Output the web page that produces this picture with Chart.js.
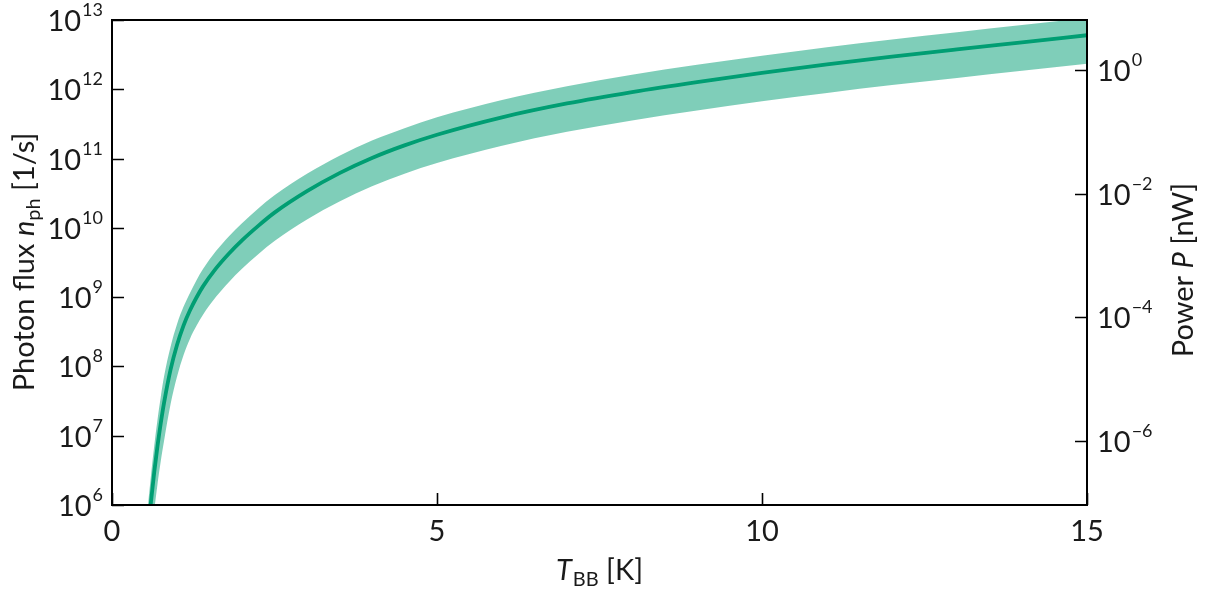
<!DOCTYPE html>
<html>
<head>
<meta charset="utf-8">
<script src="https://cdn.jsdelivr.net/npm/chart.js@4/dist/chart.umd.min.js"></script>
<style>
  html, body { margin: 0; padding: 0; background: #ffffff; }
  #wrap { width: 1205px; height: 590px; }
</style>
</head>
<body>
<div id="wrap"><canvas id="c" width="1205" height="590"></canvas></div>
<script>
// Blackbody temperature samples [K]
const temperatureK = [0.5, 0.55, 0.6, 0.65, 0.7, 0.75, 0.8, 0.9, 1.0, 1.1, 1.2, 1.3, 1.4, 1.6, 1.8, 2.0, 2.25, 2.5,
  3.0, 3.5, 4.0, 4.5, 5.0, 6.0, 7.0, 8.0, 9.0, 10, 11, 12, 13, 14, 15];

// Photon flux n_ph [1/s]: central estimate and the upper / lower bounds of the band
const fluxCentral = [1.07e5, 3.76e5, 1.12e6, 2.99e6, 7.08e6, 1.51e7, 2.95e7, 8.91e7, 2.04e8, 3.89e8, 6.46e8,
  9.89e8, 1.43e9, 2.60e9, 4.27e9, 6.61e9, 1.07e10, 1.66e10, 3.39e10, 6.17e10, 1.02e11, 1.55e11, 2.21e11,
  3.94e11, 6.24e11, 9.12e11, 1.27e12, 1.72e12, 2.28e12, 2.95e12, 3.76e12, 4.76e12, 6.03e12];
const fluxUpper = [2.57e5, 9.02e5, 2.69e6, 7.16e6, 1.70e7, 3.63e7, 7.08e7, 1.91e8, 4.07e8, 7.24e8, 1.15e9,
  1.76e9, 2.54e9, 4.62e9, 7.59e9, 1.17e10, 1.91e10, 2.95e10, 6.03e10, 1.10e11, 1.82e11, 2.75e11, 3.94e11,
  7.00e11, 1.11e12, 1.62e12, 2.26e12, 3.06e12, 4.05e12, 5.25e12, 6.68e12, 8.47e12, 1.07e13];
const fluxLower = [3.02e4, 1.06e5, 3.16e5, 8.41e5, 2.00e6, 4.27e6, 8.32e6, 2.82e7, 7.08e7, 1.45e8, 2.51e8,
  3.85e8, 5.56e8, 1.01e9, 1.66e9, 2.57e9, 4.17e9, 6.46e9, 1.32e10, 2.40e10, 3.98e10, 6.03e10, 8.61e10,
  1.53e11, 2.43e11, 3.55e11, 4.95e11, 6.70e11, 8.85e11, 1.15e12, 1.46e12, 1.85e12, 2.34e12];

// Axis ticks
const temperatureTicks = [0, 5, 10, 15];
const fluxTickExponents = [6, 7, 8, 9, 10, 11, 12, 13];
const powerTickExponents = [0, -2, -4, -6];

// Axis ranges
const temperatureRange = [0, 15];
const fluxRange = [1e6, 1e13];
const powerRange = [9.2e-8, 6.44]; // power axis in nW

const GREEN = '#009E73';
const BAND = 'rgba(0,158,115,0.5)';
const FONT_FAMILY = 'Lato, "Open Sans", "DejaVu Sans", sans-serif';
const MAIN_SIZE = 29;
const SUP_SIZE = 18;
const SUB_SIZE = 20;

function pts(ys) { return temperatureK.map((t, i) => ({ x: t, y: ys[i] })); }

// Draw a sequence of text runs (normal / italic / super / sub) as one label
function runWidth(ctx, runs) {
  let w = 0;
  for (const r of runs) { ctx.font = r.font; w += ctx.measureText(r.t).width + (r.gap || 0); }
  return w;
}
function drawRuns(ctx, runs, x, y, align) {
  const w = runWidth(ctx, runs);
  let cx = align === 'right' ? x - w : align === 'center' ? x - w / 2 : x;
  for (const r of runs) {
    ctx.font = r.font;
    ctx.fillText(r.t, cx, y + (r.dy || 0));
    cx += ctx.measureText(r.t).width + (r.gap || 0);
  }
}
const fMain = `${MAIN_SIZE}px ${FONT_FAMILY}`;
const fItal = `italic ${MAIN_SIZE}px ${FONT_FAMILY}`;
const fSup = `${SUP_SIZE}px ${FONT_FAMILY}`;
const fSub = `${SUB_SIZE}px ${FONT_FAMILY}`;
function powerOfTen(e) {
  const s = e < 0 ? '\u2212' + Math.abs(e) : String(e);
  return [{ t: '10', font: fMain, gap: 1 }, { t: s, font: fSup, dy: -15 }];
}

const frameAndLabels = {
  id: 'frameAndLabels',
  afterDraw(chart) {
    const { ctx, chartArea: a, scales } = chart;
    const xs = scales.x, ys = scales.y, ps = scales.power;
    const TICK = 12;
    ctx.save();
    ctx.strokeStyle = '#000';
    ctx.fillStyle = '#1a1a1a';
    ctx.textBaseline = 'alphabetic';
    ctx.textAlign = 'left';

    // inward tick marks
    ctx.lineWidth = 1.6;
    ctx.beginPath();
    for (const t of temperatureTicks) {
      const px = Math.round(xs.getPixelForValue(t)) + 0.5;
      ctx.moveTo(px, a.bottom); ctx.lineTo(px, a.bottom - TICK);
    }
    for (const e of fluxTickExponents) {
      const py = Math.round(ys.getPixelForValue(Math.pow(10, e))) + 0.5;
      ctx.moveTo(a.left, py); ctx.lineTo(a.left + TICK, py);
    }
    for (const e of powerTickExponents) {
      const py = Math.round(ps.getPixelForValue(Math.pow(10, e))) + 0.5;
      ctx.moveTo(a.right, py); ctx.lineTo(a.right - TICK, py);
    }
    ctx.stroke();

    // frame
    ctx.lineWidth = 2;
    ctx.strokeRect(a.left, a.top, a.right - a.left, a.bottom - a.top);

    // x tick labels
    for (const t of temperatureTicks) {
      drawRuns(ctx, [{ t: String(t), font: fMain }], xs.getPixelForValue(t), a.bottom + 36, 'center');
    }
    // left tick labels
    for (const e of fluxTickExponents) {
      drawRuns(ctx, powerOfTen(e), a.left - 9, ys.getPixelForValue(Math.pow(10, e)) + 11, 'right');
    }
    // right tick labels
    for (const e of powerTickExponents) {
      drawRuns(ctx, powerOfTen(e), a.right + 10, ps.getPixelForValue(Math.pow(10, e)) + 11, 'left');
    }

    // x title: T_BB [K]
    drawRuns(ctx, [
      { t: 'T', font: fItal, gap: 1 },
      { t: 'BB', font: fSub, dy: 6 },
      { t: ' [K]', font: fMain }
    ], (a.left + a.right) / 2, 580, 'center');

    // left title: Photon flux n_ph [1/s]
    ctx.save();
    ctx.translate(34, 262);
    ctx.rotate(-Math.PI / 2);
    drawRuns(ctx, [
      { t: 'Photon flux ', font: fMain },
      { t: 'n', font: fItal },
      { t: 'ph', font: fSub, dy: 6 },
      { t: ' [1/s]', font: fMain }
    ], 0, 0, 'center');
    ctx.restore();

    // right title: Power P [nW]
    ctx.save();
    ctx.translate(1193, 270);
    ctx.rotate(-Math.PI / 2);
    drawRuns(ctx, [
      { t: 'Power ', font: fMain },
      { t: 'P', font: fItal },
      { t: ' [nW]', font: fMain }
    ], 0, 0, 'center');
    ctx.restore();

    ctx.restore();
  }
};

new Chart(document.getElementById('c'), {
  type: 'line',
  data: {
    datasets: [
      {
        label: 'upper',
        data: pts(fluxUpper),
        borderColor: 'rgba(0,0,0,0)',
        borderWidth: 0,
        backgroundColor: BAND,
        pointRadius: 0,
        cubicInterpolationMode: 'monotone',
        fill: '+1',
        order: 2
      },
      {
        label: 'lower',
        data: pts(fluxLower),
        borderColor: 'rgba(0,0,0,0)',
        borderWidth: 0,
        backgroundColor: BAND,
        pointRadius: 0,
        cubicInterpolationMode: 'monotone',
        fill: false,
        order: 2
      },
      {
        label: 'n_ph',
        data: pts(fluxCentral),
        borderColor: GREEN,
        borderWidth: 3.8,
        pointRadius: 0,
        cubicInterpolationMode: 'monotone',
        fill: false,
        order: 1
      }
    ]
  },
  options: {
    responsive: false,
    animation: false,
    devicePixelRatio: 1,
    layout: { padding: { left: 112, right: 118, top: 20, bottom: 85 } },
    plugins: { legend: { display: false }, tooltip: { enabled: false } },
    scales: {
      x: { type: 'linear', min: temperatureRange[0], max: temperatureRange[1], display: false },
      y: { type: 'logarithmic', min: fluxRange[0], max: fluxRange[1], display: false },
      power: { type: 'logarithmic', position: 'right', min: powerRange[0], max: powerRange[1], display: false }
    }
  },
  plugins: [frameAndLabels]
});
</script>
</body>
</html>
